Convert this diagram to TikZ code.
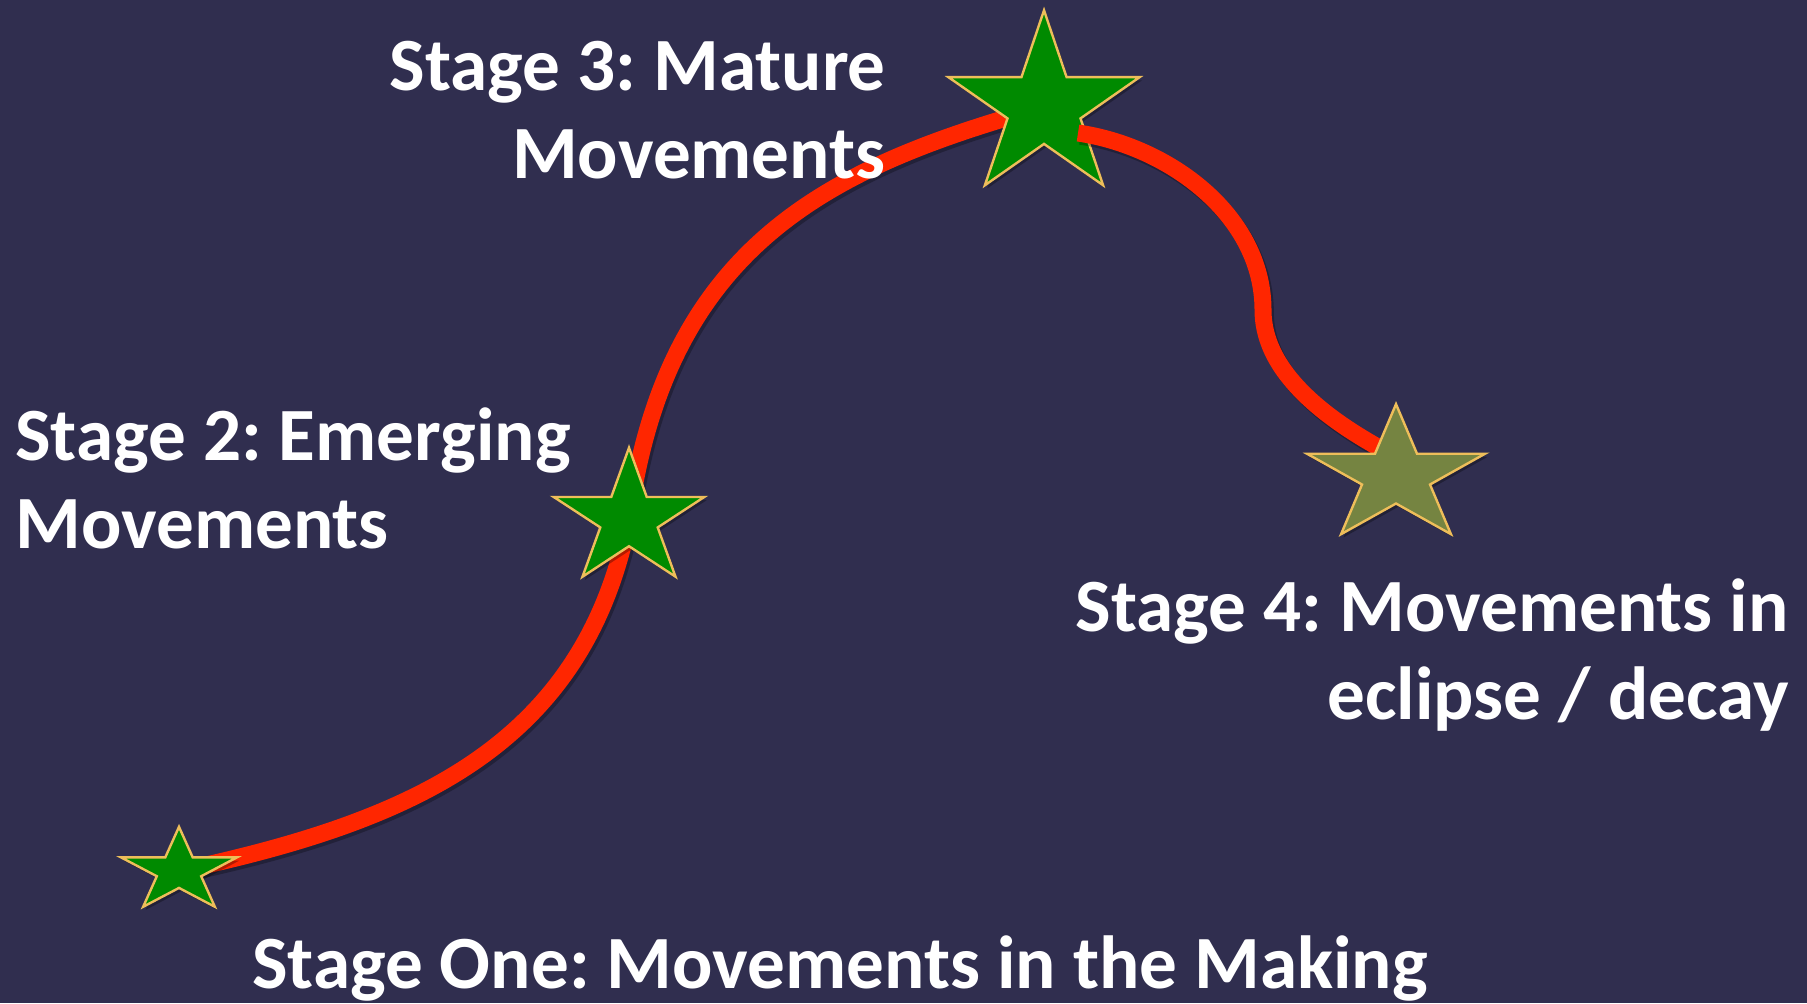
\documentclass[tikz,border=0pt]{standalone}
\usepackage{fontspec}
\setmainfont{Carlito}
\usetikzlibrary{calc}
\frenchspacing

\definecolor{bgc}{RGB}{48,46,79}
\definecolor{arcred}{RGB}{255,38,0}
\definecolor{stargreen}{RGB}{0,138,0}
\definecolor{starolive}{RGB}{117,132,65}
\definecolor{stargold}{RGB}{238,190,90}

\tikzset{
  % five-pointed star outline: outer radius #1, inner radius #2
  fivestar/.style 2 args={insert path={
    (90:#1) -- (126:#2) -- (162:#1) -- (198:#2) -- (234:#1) -- (270:#2)
    -- (306:#1) -- (342:#2) -- (18:#1) -- (54:#2) -- cycle}},
  starbody/.style={draw=stargold, line width=1.2pt, line join=miter,
    preaction={fill=black, fill opacity=0.3, draw=none,
      transform canvas={shift={(1.2pt,-1.6pt)}}}},
  stageline/.style={draw=arcred, line width=8.5pt, line cap=butt,
    preaction={draw=black, draw opacity=0.28, line width=8.5pt,
      transform canvas={shift={(1.2pt,-1.6pt)}}}},
  stagelabel/.style={text=white, inner sep=0pt,
    font=\bfseries\fontsize{37.6}{44}\selectfont}
}

\begin{document}
\begin{tikzpicture}[x=0.5pt, y=-0.5pt]
  \useasboundingbox (0,0) rectangle (1807,1003);
  \fill[bgc] (0,0) rectangle (1807,1003);

  % star centres and connector ends
  \coordinate (s1) at (179,871);
  \coordinate (s2) at (629,519);
  \coordinate (s3) at (1044,107);
  \coordinate (s4) at (1396,476);
  \coordinate (s3e) at (1078,133);
  \coordinate (s4w) at (1425,471);

  % rising arc through the first three stages
  \draw[stageline] (s1) .. controls (414,821) and (584,745) .. (s2);
  \draw[stageline] (s2) .. controls (667,242) and (834,166) .. (s3);

  % stars of the first three stages
  \path[starbody, fill=stargreen, shift={(s1)}, xscale=1.38, yscale=-1,
        fivestar={44.2}{16.9}];
  \path[starbody, fill=stargreen, shift={(s2)}, xscale=1.11, yscale=-1,
        fivestar={71.3}{27.2}];
  \path[starbody, fill=stargreen, shift={(s3)}, xscale=1.04, yscale=-1,
        fivestar={96.7}{36.9}];

  % falling arc towards decay
  \draw[stageline] (s3e) .. controls (1168,146) and (1263,215) .. (1263,310)
    .. controls (1263,380) and (1343,433) .. (s4w);

  \path[starbody, fill=starolive, shift={(s4)}, xscale=1.30, yscale=-1,
        fivestar={71.9}{27.5}];

  % stage labels (base anchor sits on the last line)
  \node[stagelabel, align=right, anchor=base east] (t3) at (886,178)
    {Stage 3: Mature\\Movements};
  \node[stagelabel, align=left, anchor=base west] (t2) at (15,548)
    {Stage 2: Emerging\\Movements};
  \node[stagelabel, align=right, anchor=base east] (t4) at (1789,719)
    {Stage 4: Movements in\\eclipse / decay};
  \node[stagelabel, anchor=base] (t1) at (840,988)
    {Stage One: Movements in the Making};
\end{tikzpicture}
\end{document}
